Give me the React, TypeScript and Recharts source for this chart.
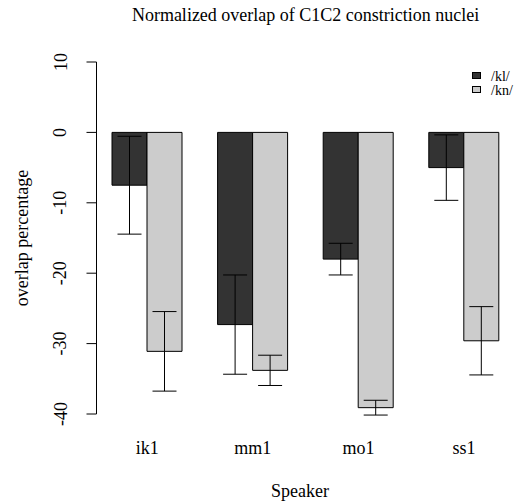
import React from 'react';
import { BarChart, Bar, XAxis, YAxis, ErrorBar } from 'recharts';

const speakers = ['ik1', 'mm1', 'mo1', 'ss1'];
const klMeans = [-7.5, -27.3, -18.0, -5.0];
const klErr = [6.95, 7.05, 2.25, 4.65];
const knMeans = [-31.1, -33.8, -39.1, -29.6];
const knErr = [5.65, 2.15, 1.05, 4.85];
const seriesNames = ['/kl/', '/kn/'];
const seriesColors = ['#333333', '#cccccc'];
const yTicks = [-40, -30, -20, -10, 0, 10];

const data = speakers.map((s, i) => ({
  speaker: s,
  kl: klMeans[i],
  klErr: klErr[i],
  kn: knMeans[i],
  knErr: knErr[i],
}));

const FONT = '"Liberation Serif", "DejaVu Serif", serif';

const W = 518;
const H = 503;
const PLOT_LEFT = 96.5;
const PLOT_TOP = 62;
const PLOT_BOTTOM = 414;
const Y_AXIS_W = 60;
const X_AXIS_H = 30;

const YTick = (props: any) => {
  const { x, y, payload } = props;
  return (
    <text
      x={x}
      y={y}
      transform={`rotate(-90, ${x}, ${y})`}
      textAnchor="middle"
      fontFamily={FONT}
      fontSize={18}
      fill="#000"
    >
      {payload.value}
    </text>
  );
};

const XTick = (props: any) => {
  const { x, y, payload } = props;
  return (
    <text x={x} y={y} dy={40} textAnchor="middle" fontFamily={FONT} fontSize={18} fill="#000">
      {payload.value}
    </text>
  );
};

export default function App() {
  const plotCenterX = (PLOT_LEFT + 514.7) / 2;
  return (
    <div style={{ position: 'absolute', left: 0, top: 0, width: W, height: H, background: '#fff', overflow: 'hidden' }}>
      <BarChart
        width={W}
        height={H}
        data={data}
        margin={{ top: PLOT_TOP, right: 1.2, left: PLOT_LEFT - Y_AXIS_W, bottom: H - PLOT_BOTTOM - X_AXIS_H }}
        barCategoryGap="16.667%"
        barGap={0}
      >
        <XAxis
          dataKey="speaker"
          axisLine={false}
          tickLine={false}
          tickSize={0}
          tickMargin={0}
          height={X_AXIS_H}
          padding={{ left: -2.1, right: 0 }}
          tick={<XTick />}
          interval={0}
        />
        <YAxis
          type="number"
          domain={[-40, 10]}
          ticks={yTicks}
          allowDataOverflow
          width={Y_AXIS_W}
          tickSize={10}
          tickMargin={20}
          axisLine={{ stroke: '#000', strokeWidth: 1 }}
          tickLine={{ stroke: '#000', strokeWidth: 1 }}
          tick={<YTick />}
          interval={0}
        />
        <Bar dataKey="kl" name={seriesNames[0]} fill={seriesColors[0]} stroke="#000" strokeWidth={1} isAnimationActive={false}>
          <ErrorBar dataKey="klErr" width={12} stroke="#000" strokeWidth={1} direction="y" />
        </Bar>
        <Bar dataKey="kn" name={seriesNames[1]} fill={seriesColors[1]} stroke="#000" strokeWidth={1} isAnimationActive={false}>
          <ErrorBar dataKey="knErr" width={12} stroke="#000" strokeWidth={1} direction="y" />
        </Bar>
      </BarChart>
      <svg
        width={W}
        height={H}
        style={{ position: 'absolute', left: 0, top: 0, pointerEvents: 'none' }}
      >
        <text x={plotCenterX} y={21} textAnchor="middle" fontFamily={FONT} fontSize={18} fill="#000">
          Normalized overlap of C1C2 constriction nuclei
        </text>
        <text x={300} y={497} textAnchor="middle" fontFamily={FONT} fontSize={18} fill="#000">
          Speaker
        </text>
        <text
          x={28}
          y={(PLOT_TOP + PLOT_BOTTOM) / 2}
          transform={`rotate(-90, 28, ${(PLOT_TOP + PLOT_BOTTOM) / 2})`}
          textAnchor="middle"
          fontFamily={FONT}
          fontSize={18}
          fill="#000"
        >
          overlap percentage
        </text>
        {seriesNames.map((n, i) => (
          <g key={n}>
            <rect x={472.5} y={72.5 + i * 14} width={8} height={6} fill={seriesColors[i]} stroke="#000" strokeWidth={1} />
            <text x={491} y={80.5 + i * 14} fontFamily={FONT} fontSize={14} fill="#000">
              {n}
            </text>
          </g>
        ))}
      </svg>
    </div>
  );
}
